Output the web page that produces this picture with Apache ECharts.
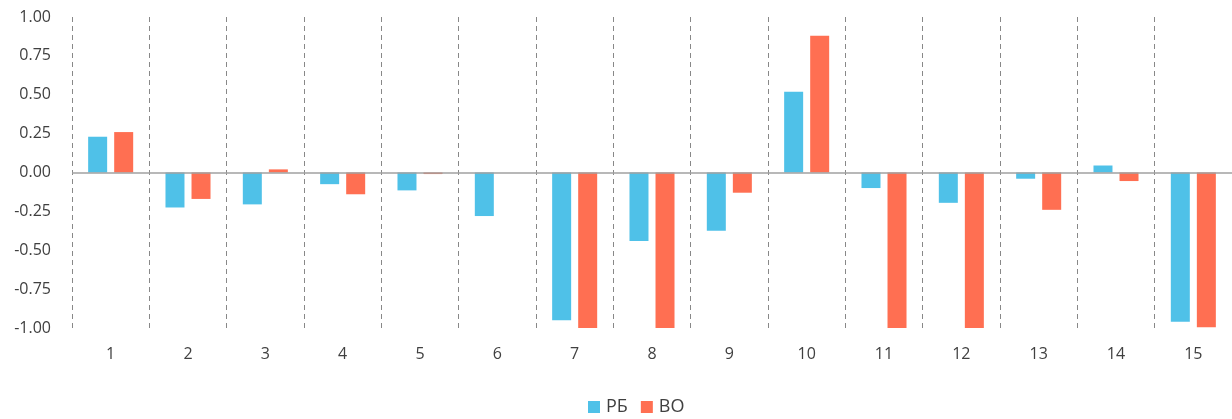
<!DOCTYPE html>
<html>
<head>
<meta charset="utf-8">
<script src="https://cdn.jsdelivr.net/npm/echarts@6/dist/echarts.min.js"></script>
<style>
  html, body { margin: 0; padding: 0; background: #fff; }
  #chart { width: 1232px; height: 419px; }
</style>
</head>
<body>
<div id="chart"></div>
<script>
const categories = ['1', '2', '3', '4', '5', '6', '7', '8', '9', '10', '11', '12', '13', '14', '15']
const rbValues = [0.23, -0.225, -0.205, -0.075, -0.115, -0.28, -0.95, -0.44, -0.375, 0.52, -0.10, -0.195, -0.04, 0.045, -0.96]
const voValues = [0.26, -0.17, 0.02, -0.14, -0.01, 0, -1, -1, -0.13, 0.88, -1, -1, -0.24, -0.055, -0.995]
const seriesNames = ['РБ', 'ВО']

const font = '"Open Sans", "Noto Sans", sans-serif'

const chart = echarts.init(document.getElementById('chart'))
chart.setOption({
  animation: false,
  color: ['#4fc1e8', '#ff6f52'],
  textStyle: { fontFamily: font },
  grid: { left: 72, right: 0, top: 17, bottom: 91 },
  legend: {
    data: seriesNames,
    left: 583,
    top: 393,
    icon: 'rect',
    itemWidth: 12,
    itemHeight: 12,
    itemGap: 13,
    textStyle: { fontSize: 18, color: '#404040', fontFamily: font, padding: [0, 0, 0, 1] }
  },
  xAxis: {
    type: 'category',
    data: categories,
    axisLine: { show: false, onZero: false },
    axisTick: { show: false },
    axisLabel: { fontSize: 16, color: '#404040', margin: 18 },
    splitLine: {
      show: true,
      lineStyle: { type: [5, 4], color: '#888', width: 1 }
    }
  },
  yAxis: {
    type: 'value',
    min: -1,
    max: 1,
    interval: 0.25,
    axisLine: { show: false },
    axisTick: { show: false },
    splitLine: { show: false },
    axisLabel: {
      fontSize: 16,
      color: '#404040',
      margin: 21,
      formatter: (v) => v.toFixed(2)
    }
  },
  series: [
    {
      name: seriesNames[0],
      type: 'bar',
      data: rbValues,
      barWidth: 19,
      barGap: '37%',
      markLine: {
        silent: true,
        symbol: 'none',
        label: { show: false },
        lineStyle: { type: 'solid', color: '#a0a0a0', width: 1.5 },
        data: [{ yAxis: 0 }]
      }
    },
    {
      name: seriesNames[1],
      type: 'bar',
      data: voValues,
      barWidth: 19
    }
  ]
})
</script>
</body>
</html>
